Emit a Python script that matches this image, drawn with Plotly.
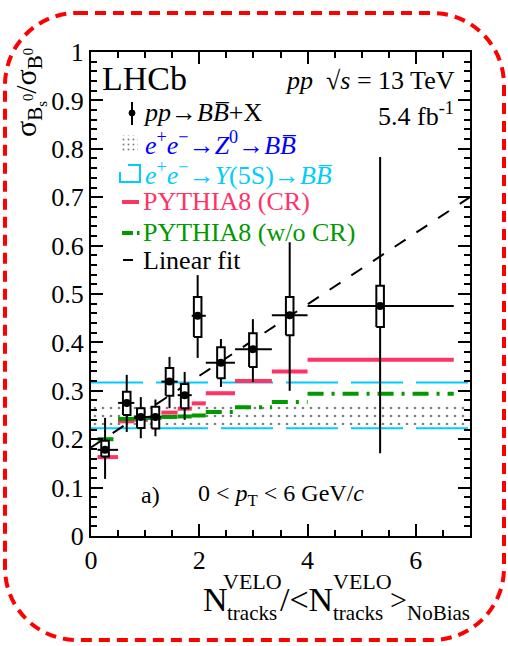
import plotly.graph_objects as go

# ---------------- data ----------------
bin_lo  = [0.12, 0.50, 0.80, 1.05, 1.30, 1.60, 1.86, 2.12, 2.66, 3.34, 4.00]
bin_hi  = [0.50, 0.80, 1.05, 1.30, 1.60, 1.86, 2.12, 2.66, 3.34, 4.00, 6.70]
x_pt    = [0.26, 0.66, 0.92, 1.19, 1.45, 1.73, 1.97, 2.40, 2.99, 3.67, 5.34]
ratio   = [0.178, 0.275, 0.246, 0.246, 0.319, 0.291, 0.455, 0.358, 0.386, 0.456, 0.475]
stat_lo = [0.118, 0.215, 0.202, 0.206, 0.264, 0.240, 0.368, 0.308, 0.318, 0.300, 0.171]
stat_hi = [0.244, 0.333, 0.287, 0.282, 0.370, 0.339, 0.539, 0.407, 0.448, 0.607, 0.783]
syst_lo = [0.164, 0.250, 0.223, 0.222, 0.290, 0.264, 0.411, 0.326, 0.349, 0.415, 0.432]
syst_hi = [0.197, 0.298, 0.264, 0.267, 0.347, 0.314, 0.494, 0.390, 0.419, 0.494, 0.517]
pythia_cr   = [0.163, 0.237, 0.240, 0.244, 0.255, 0.263, 0.274, 0.295, 0.320, 0.340, 0.364]
pythia_nocr = [0.200, 0.242, 0.243, 0.244, 0.246, 0.247, 0.249, 0.256, 0.266, 0.277, 0.294]
z0_band  = [0.229, 0.277]
y5s_band = [0.2225, 0.317]
fit_intercept = 0.183
fit_slope = 0.0739
x_range = [0, 7]
y_range = [0, 1]

# ---------------- layout geometry ----------------
W, H = 508, 646
ML, MR, MT, MB = 91, 38, 52, 110
PW, PH = W - ML - MR, H - MT - MB
SERIF = "Liberation Serif"
RED, GREEN, CYAN, BLUE = "#FF3366", "#009900", "#00CCFF", "#0000FF"
BOX_HALF = 0.07


def px2x(px):
    return (px - ML) / PW


def px2y(py):
    return (H - MB - py) / PH


fig = go.Figure()

# Z0 dotted band
fig.add_trace(go.Scatter(
    x=[x_range[0], x_range[1], x_range[1], x_range[0], x_range[0]],
    y=[z0_band[0], z0_band[0], z0_band[1], z0_band[1], z0_band[0]],
    mode="lines", line=dict(width=0), fill="toself",
    fillcolor="rgba(0,0,0,0)",
    fillpattern=dict(shape=".", size=8, solidity=0.09, fgcolor="black",
                     bgcolor="rgba(0,0,0,0)"),
    hoverinfo="skip", showlegend=False))

# Y(5S) band edges
for yv in y5s_band:
    fig.add_trace(go.Scatter(x=x_range, y=[yv, yv], mode="lines",
                             line=dict(color=CYAN, width=2, dash="52px,13px"),
                             hoverinfo="skip", showlegend=False))


def steps(vals):
    xs, ys = [], []
    for lo, hi, v in zip(bin_lo, bin_hi, vals):
        xs += [lo, hi, None]
        ys += [v, v, None]
    return xs, ys


sx, sy = steps(pythia_cr)
fig.add_trace(go.Scatter(x=sx, y=sy, mode="lines",
                         line=dict(color=RED, width=4),
                         hoverinfo="skip", showlegend=False))
sx, sy = steps(pythia_nocr)
fig.add_trace(go.Scatter(x=sx, y=sy, mode="lines",
                         line=dict(color=GREEN, width=4, dash="16px,8px,3px,8px"),
                         hoverinfo="skip", showlegend=False))

# linear fit
fig.add_trace(go.Scatter(x=x_range,
                         y=[fit_intercept + fit_slope * xv for xv in x_range],
                         mode="lines",
                         line=dict(color="black", width=2, dash="13px,13px"),
                         hoverinfo="skip", showlegend=False))

# vertical (stat) error bars
fig.add_trace(go.Scatter(
    x=x_pt, y=ratio, mode="markers", marker=dict(size=1, color="black", opacity=0),
    error_y=dict(type="data", symmetric=False,
                 array=[h - r for h, r in zip(stat_hi, ratio)],
                 arrayminus=[r - l for r, l in zip(ratio, stat_lo)],
                 color="black", thickness=2, width=0),
    hoverinfo="skip", showlegend=False))

# systematic boxes
bx, by = [], []
for xv, lo, hi in zip(x_pt, syst_lo, syst_hi):
    bx += [xv - BOX_HALF, xv + BOX_HALF, xv + BOX_HALF, xv - BOX_HALF, xv - BOX_HALF, None]
    by += [lo, lo, hi, hi, lo, None]
fig.add_trace(go.Scatter(x=bx, y=by, mode="lines", fill="toself", fillcolor="white",
                         line=dict(color="black", width=2),
                         hoverinfo="skip", showlegend=False))

# markers + bin-width bars
fig.add_trace(go.Scatter(
    x=x_pt, y=ratio, mode="markers", marker=dict(size=8, color="black"),
    error_x=dict(type="data", symmetric=False,
                 array=[h - xv for h, xv in zip(bin_hi, x_pt)],
                 arrayminus=[xv - l for xv, l in zip(x_pt, bin_lo)],
                 color="black", thickness=2, width=0),
    hoverinfo="skip", showlegend=False))

# overlay axes in paper units for the dotted legend swatch
fig.add_trace(go.Scatter(
    x=[px2x(122), px2x(138), px2x(138), px2x(122), px2x(122)],
    y=[px2y(152), px2y(152), px2y(135), px2y(135), px2y(152)],
    xaxis="x2", yaxis="y2", mode="lines", line=dict(width=0), fill="toself",
    fillcolor="rgba(0,0,0,0)",
    fillpattern=dict(shape=".", size=5, solidity=0.12, fgcolor="black",
                     bgcolor="rgba(0,0,0,0)"),
    hoverinfo="skip", showlegend=False))

shapes = []
# legend icons
shapes.append(dict(type="line", xref="paper", yref="paper",
                   x0=px2x(132), x1=px2x(132), y0=px2y(102), y1=px2y(125),
                   line=dict(color="black", width=2)))
shapes.append(dict(type="circle", xref="paper", yref="paper",
                   x0=px2x(129), x1=px2x(135), y0=px2y(116), y1=px2y(110),
                   fillcolor="black", line=dict(color="black", width=1)))
shapes.append(dict(type="path", xref="paper", yref="paper",
                   path="M {a},{b} L {c},{b} L {c},{d} L {e},{d} L {e},{f}".format(
                       a=px2x(128), b=px2y(165), c=px2x(140), d=px2y(182),
                       e=px2x(120), f=px2y(172)),
                   line=dict(color=CYAN, width=2)))
shapes.append(dict(type="line", xref="paper", yref="paper",
                   x0=px2x(122), x1=px2x(139), y0=px2y(202), y1=px2y(202),
                   line=dict(color=RED, width=4)))
shapes.append(dict(type="line", xref="paper", yref="paper",
                   x0=px2x(122), x1=px2x(133), y0=px2y(233), y1=px2y(233),
                   line=dict(color=GREEN, width=4)))
shapes.append(dict(type="line", xref="paper", yref="paper",
                   x0=px2x(137), x1=px2x(139.5), y0=px2y(233), y1=px2y(233),
                   line=dict(color=GREEN, width=4)))
shapes.append(dict(type="line", xref="paper", yref="paper",
                   x0=px2x(123), x1=px2x(133), y0=px2y(260), y1=px2y(260),
                   line=dict(color="black", width=2)))

# outer rounded dashed frame
L_, R_, T_, B_, RAD = 5, 504, 13, 640, 72
k = 0.4477 * RAD
pth = "M {},{} ".format(px2x(L_ + RAD), px2y(T_))
pth += "L {},{} ".format(px2x(R_ - RAD), px2y(T_))
pth += "C {},{} {},{} {},{} ".format(px2x(R_ - k), px2y(T_), px2x(R_), px2y(T_ + k), px2x(R_), px2y(T_ + RAD))
pth += "L {},{} ".format(px2x(R_), px2y(B_ - RAD))
pth += "C {},{} {},{} {},{} ".format(px2x(R_), px2y(B_ - k), px2x(R_ - k), px2y(B_), px2x(R_ - RAD), px2y(B_))
pth += "L {},{} ".format(px2x(L_ + RAD), px2y(B_))
pth += "C {},{} {},{} {},{} ".format(px2x(L_ + k), px2y(B_), px2x(L_), px2y(B_ - k), px2x(L_), px2y(B_ - RAD))
pth += "L {},{} ".format(px2x(L_), px2y(T_ + RAD))
pth += "C {},{} {},{} {},{} Z".format(px2x(L_), px2y(T_ + k), px2x(L_ + k), px2y(T_), px2x(L_ + RAD), px2y(T_))
shapes.append(dict(type="path", xref="paper", yref="paper", path=pth,
                   line=dict(color="#FF0000", width=4, dash="11px,7px")))

ann = []


def add_text(text, px, py, size, color="black", xanchor="left", yanchor="middle", angle=0):
    ann.append(dict(text=text, x=px2x(px), y=px2y(py), xref="paper", yref="paper",
                    xanchor=xanchor, yanchor=yanchor, showarrow=False, textangle=angle,
                    borderpad=0,
                    font=dict(family=SERIF, size=size, color=color)))


add_text("LHCb", 101, 78, 34)
add_text("<i>pp</i>→<i>BB̅</i>+X", 142, 113, 26)
add_text("<i>e</i><sup>+</sup><i>e</i><sup>−</sup>→<i>Z</i><sup>0</sup>→<i>BB̅</i>", 144, 143, 26, BLUE)
add_text("<i>e</i><sup>+</sup><i>e</i><sup>−</sup>→<i>Y</i>(5S)→<i>BB̅</i>", 144, 173, 26, CYAN)
add_text("PYTHIA8 (CR)", 142, 202, 26, RED)
add_text("PYTHIA8 (w/o CR)", 142, 232, 26, GREEN)
add_text("Linear fit", 142, 260, 26)
add_text("<i>pp</i>  √<i>s</i> = 13 TeV", 456, 80, 26, xanchor="right")
add_text("5.4 fb<sup>-1</sup>", 455, 115, 26, xanchor="right")
add_text("a)", 140, 495, 24)
add_text("0 < <i>p</i><sub>T</sub> < 6 GeV/<i>c</i>", 197, 495, 24)

# x-axis title assembled from pieces
add_text("N", 202, 599, 34)
add_text("VELO", 222, 581, 22)
add_text("tracks", 226, 613, 21)
add_text("/<N", 279, 599, 34)
add_text("VELO", 332, 581, 22)
add_text("tracks", 332, 613, 21)
add_text(">", 389, 599, 30)
add_text("NoBias", 406, 613, 21)

# y-axis title
add_text("σ<sub>B<sub>s</sub><sup>0</sup></sub>/σ<sub>B<sup>0</sup></sub>", 29, 93, 30,
         xanchor="center", yanchor="middle", angle=-90)

axis_common = dict(showgrid=False, zeroline=False, ticks="inside", ticklen=12,
                   tickwidth=2, tickcolor="black", showline=True, linewidth=2,
                   linecolor="black", mirror="allticks",
                   tickfont=dict(family=SERIF, size=26, color="black"))

fig.update_layout(
    width=W, height=H,
    margin=dict(l=ML, r=MR, t=MT, b=MB),
    paper_bgcolor="white", plot_bgcolor="white",
    showlegend=False,
    xaxis=dict(range=x_range, tick0=0, dtick=2,
               minor=dict(dtick=0.5, ticks="inside", ticklen=6, tickwidth=1.5,
                          tickcolor="black", showgrid=False),
               **axis_common),
    yaxis=dict(range=y_range, tick0=0, dtick=0.1,
               minor=dict(dtick=0.02, ticks="inside", ticklen=6, tickwidth=1.5,
                          tickcolor="black", showgrid=False),
               **axis_common),
    xaxis2=dict(overlaying="x", range=[0, 1], visible=False),
    yaxis2=dict(overlaying="y", range=[0, 1], visible=False),
    shapes=shapes,
    annotations=ann,
)

fig.write_html("out.html", config={"displayModeBar": False})
